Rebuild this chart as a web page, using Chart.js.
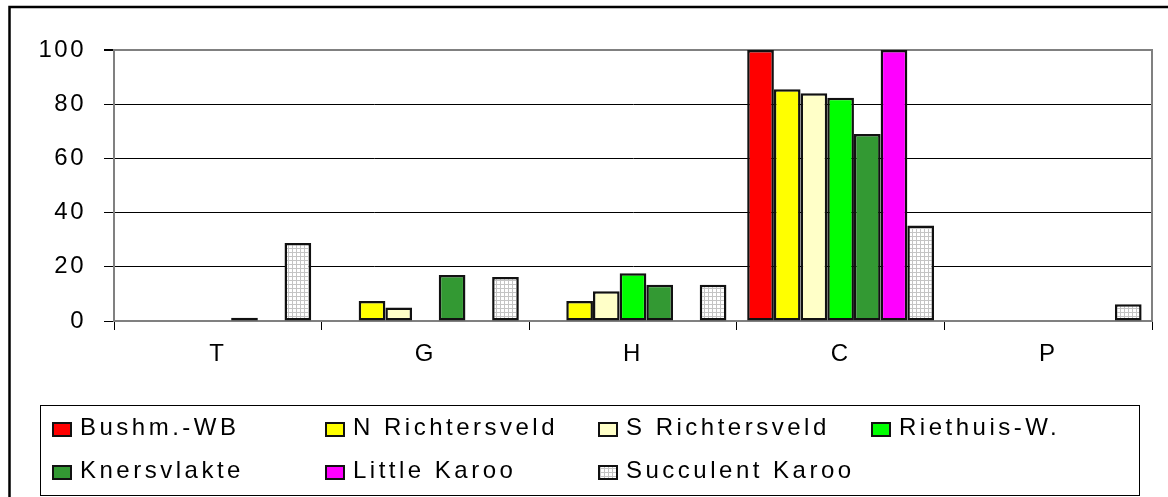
<!DOCTYPE html>
<html>
<head>
<meta charset="utf-8">
<script src="https://cdn.jsdelivr.net/npm/chart.js@4/dist/chart.umd.min.js"></script>
<style>
    html, body { margin: 0; padding: 0; background: #fff; }
    #chartBox { width: 1168px; height: 497px; position: relative; }
</style>
</head>
<body>
<div id="chartBox"><canvas id="veldChart"></canvas></div>
<script>
const categories = ['T', 'G', 'H', 'C', 'P'];
const seriesNames = ['Bushm.-WB', 'N Richtersveld', 'S Richtersveld', 'Riethuis-W.',
    'Knersvlakte', 'Little Karoo', 'Succulent Karoo'];
const bushmWB = [0, 0, 0, 100, 0];
const nRichtersveld = [0, 7.4, 7.4, 85.5, 0];
const sRichtersveld = [0, 5, 11, 84, 0];
const riethuisW = [0, 0, 17.6, 82.4, 0];
const knersvlakte = [1.2, 17, 13.4, 69, 0];
const littleKaroo = [0, 0, 0, 100, 0];
const succulentKaroo = [28.8, 16.2, 13.4, 35.2, 6.2];
const yTicks = [0, 20, 40, 60, 80, 100];

// light grey grid fill used by Excel for the last series
function gridPattern() {
    const c = document.createElement('canvas');
    c.width = 4; c.height = 4;
    const g = c.getContext('2d');
    g.fillStyle = '#ffffff';
    g.fillRect(0, 0, 4, 4);
    g.fillStyle = '#c4c4c4';
    g.fillRect(0, 0, 4, 1);
    g.fillRect(0, 0, 1, 4);
    return g.createPattern(c, 'repeat');
}

const ctx = document.getElementById('veldChart').getContext('2d');
const pattern = gridPattern();
const fills = ['#ff0000', '#ffff00', '#ffffc8', '#00ff00', '#339933', '#ff00ff', pattern];
const values = [bushmWB, nRichtersveld, sRichtersveld, riethuisW, knersvlakte, littleKaroo, succulentKaroo];

const FONT = '"Liberation Sans", Arial, sans-serif';

const framePlugin = {
    id: 'frame',
    beforeDraw(chart) {
        chart.ctx.letterSpacing = '2.5px';
    },
    afterDraw(chart) {
        const c = chart.ctx;
        const a = chart.chartArea;
        c.save();
        // right edge of plot area
        c.strokeStyle = '#808080';
        c.lineWidth = 2;
        c.beginPath();
        c.moveTo(a.right, a.top - 1);
        c.lineTo(a.right, a.bottom);
        c.stroke();
        // outer chart border
        c.strokeStyle = '#000';
        c.lineWidth = 2.5;
        c.strokeRect(9.5, 7, 1200, 600);
        // legend box
        c.lineWidth = 1;
        c.strokeRect(40.5, 405.5, 1099, 90);
        c.font = '24px ' + FONT;
        c.letterSpacing = '3.5px';
        c.fillStyle = '#000';
        c.textBaseline = 'alphabetic';
        c.textAlign = 'left';
        chart.data.datasets.forEach((ds, i) => {
            const col = i % 4, row = Math.floor(i / 4);
            const x = 52 + col * 273;
            const y = row === 0 ? 422 : 465;
            c.fillStyle = ds.backgroundColor;
            c.fillRect(x, y, 20, 15);
            c.strokeStyle = '#111';
            c.lineWidth = 2;
            c.strokeRect(x + 1, y + 1, 18, 13);
            c.fillStyle = '#000';
            c.fillText(ds.label, x + 28, y + 13);
        });
        c.restore();
    }
};

new Chart(ctx, {
    type: 'bar',
    data: {
        labels: categories,
        datasets: seriesNames.map((name, i) => ({
            label: name,
            data: values[i],
            backgroundColor: fills[i],
            borderColor: '#111',
            borderWidth: 2.5,
            borderSkipped: false,
            categoryPercentage: 0.9,
            barPercentage: 1.0,
        })),
    },
    options: {
        responsive: true,
        maintainAspectRatio: false,
        animation: false,
        layout: { padding: { left: 0, right: 16, top: 50, bottom: 0 } },
        plugins: {
            legend: { display: false },
            tooltip: { enabled: false },
        },
        scales: {
            x: {
                grid: {
                    offset: true,
                    drawOnChartArea: false,
                    tickLength: 9,
                    color: '#000',
                },
                border: { color: '#808080', width: 2 },
                ticks: { color: '#000', font: { family: FONT, size: 24 }, padding: 10 },
                afterFit: (scale) => {
                    scale.height = 176;
                    scale.paddingLeft = 0;
                    scale.paddingRight = 0;
                },
            },
            y: {
                min: 0,
                max: 100,
                afterBuildTicks: (scale) => {
                    scale.ticks = yTicks.map(v => ({ value: v }));
                },
                grid: {
                    tickLength: 10,
                    color: (c) => (c.tick && (c.tick.value === 100 || c.tick.value === 0)) ? '#808080' : '#000',
                    lineWidth: (c) => (c.tick && c.tick.value === 100) ? 2 : 1,
                    tickColor: '#000',
                },
                border: { color: '#808080', width: 2 },
                ticks: { color: '#000', font: { family: FONT, size: 24 }, padding: 18 },
                afterFit: (scale) => {
                    scale.width = 114;
                    scale.paddingTop = 0;
                    scale.paddingBottom = 0;
                },
            },
        },
    },
    plugins: [framePlugin],
});
</script>
</body>
</html>
